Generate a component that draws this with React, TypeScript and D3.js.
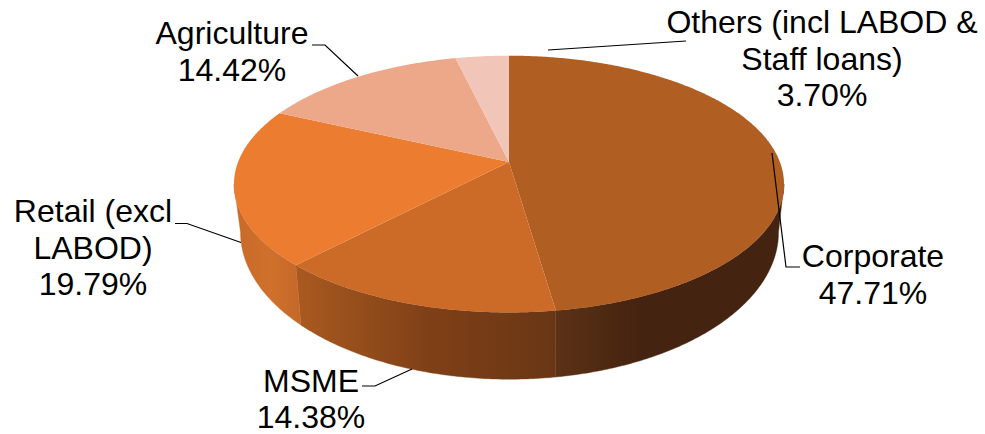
import * as d3 from 'd3';

const categories = ['Corporate', 'MSME', 'Retail (excl LABOD)', 'Agriculture', 'Others (incl LABOD & Staff loans)'];
const shares = [47.71, 14.38, 19.79, 14.42, 3.7];
const valueLabels = ['47.71%', '14.38%', '19.79%', '14.42%', '3.70%'];
const labelLines = [['Corporate'], ['MSME'], ['Retail (excl', 'LABOD)'], ['Agriculture'], ['Others (incl LABOD &', 'Staff loans)']];
const topColors = ['#B05E21', '#CC6A27', '#EB7C30', '#EDA889', '#F1C5B8'];

// label blocks: centre x, first baseline
const labelPos = [
    { x: 873, y: 267 },
    { x: 311, y: 391.5 },
    { x: 93, y: 222 },
    { x: 232, y: 44 },
    { x: 822, y: 33 },
];
const leaders = [
    'M772,153L786,267L800,267',
    'M412,369L375,386L362,386',
    'M241,242.5L187,223.5L175,223.5',
    'M358,76L325,45L312,45',
    'M548,50L686,41',
];

// side gradients, [offset, colour] along x
const sideStops = [
    { x1: 556, x2: 640, stops: ['#5C3215', '#442310'] },
    { x1: 300, x2: 556, stops: ['#A8591F', '#7F4017', '#693615'] },
    { x1: 242, x2: 300, stops: ['#C96C2A', '#D0702C', '#C46829'] },
];

const lineH = 36.5;
const persp = 0.172;
const topFace = { cx: 509, cy: 162, a: 270.9, b: 124.6 };
const botFace = { cx: 509.5, cy: 207, a: 265, b: 142.6 };

// perspective projection of a point on the rim, angle clockwise from top
const rim = (face: typeof topFace, t: number): [number, number] => {
    const u = Math.sin(t);
    const v = -Math.cos(t);
    const w = 1 - persp * v;
    return [face.cx + (face.a * u) / w, face.cy + (face.b * v) / w];
};

const line = d3.line();
const arcAngles = (t0: number, t1: number) => {
    const n = Math.max(2, Math.ceil(Math.abs(t1 - t0) / 0.01));
    return d3.range(n + 1).map(i => t0 + ((t1 - t0) * i) / n);
};

const arcs = d3.pie<number>().sort(null).startAngle(0).endAngle(2 * Math.PI)(shares);

const sideFrom = (99.9 * Math.PI) / 180;
const sideTo = (260.1 * Math.PI) / 180;

export default function App() {
    return (
        <svg width={985} height={434} style={{ position: 'absolute', left: 0, top: 0, background: '#fff' }}>
            <defs>
                {sideStops.map((g, i) => (
                    <linearGradient key={i} id={`side${i}`} gradientUnits="userSpaceOnUse" x1={g.x1} x2={g.x2} y1={0} y2={0}>
                        {g.stops.map((c, j) => (
                            <stop key={j} offset={j / (g.stops.length - 1)} stopColor={c} />
                        ))}
                    </linearGradient>
                ))}
            </defs>
            {/* rim sides first, the top face covers the rest */}
            {arcs.slice(0, 3).map((d, i) => {
                const t0 = Math.max(d.startAngle, sideFrom);
                const t1 = Math.min(d.endAngle, sideTo);
                const angles = arcAngles(t0, t1);
                const pts = [...angles.map(t => rim(topFace, t)), ...angles.slice().reverse().map(t => rim(botFace, t))];
                return <path key={i} d={line(pts) + 'Z'} fill={`url(#side${i})`} stroke={`url(#side${i})`} strokeWidth={0.4} />;
            })}
            {arcs.map((d, i) => {
                const pts: [number, number][] = [[topFace.cx, topFace.cy], ...arcAngles(d.startAngle, d.endAngle).map(t => rim(topFace, t))];
                return <path key={categories[i]} d={line(pts) + 'Z'} fill={topColors[i]} />;
            })}
            {leaders.map((d, i) => (
                <path key={i} d={d} fill="none" stroke="#000" strokeWidth={1.2} />
            ))}
            {categories.map((c, i) => (
                <text key={c} textAnchor="middle" fontFamily="'Liberation Sans', Arial, sans-serif" fontSize={32} fill="#000">
                    {[...labelLines[i], valueLabels[i]].map((s, j) => (
                        <tspan key={j} x={labelPos[i].x} y={labelPos[i].y + j * lineH}>
                            {s}
                        </tspan>
                    ))}
                </text>
            ))}
        </svg>
    );
}
